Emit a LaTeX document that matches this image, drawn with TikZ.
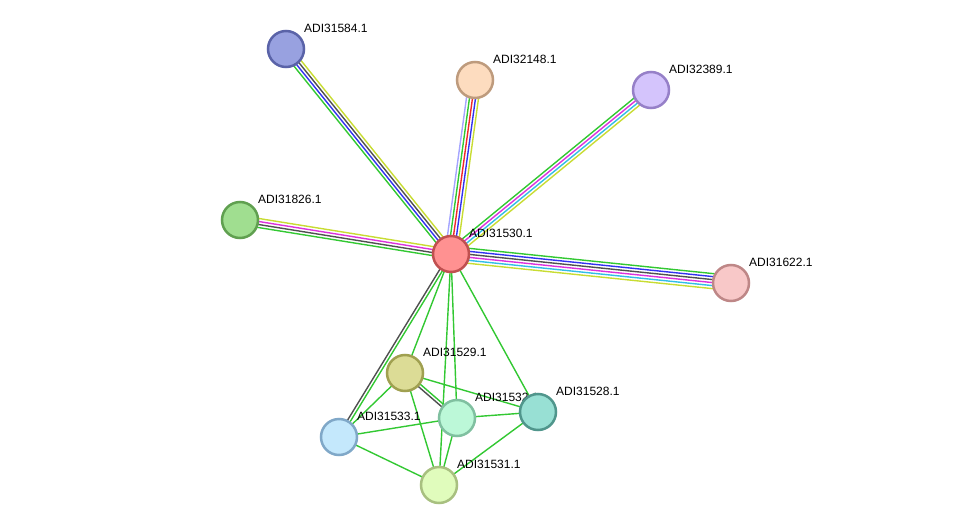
\documentclass[tikz,border=0pt]{standalone}
\usepackage{fontspec}
\setmainfont{Liberation Sans}
\usetikzlibrary{calc}
\definecolor{sgreen}{RGB}{50,200,50}
\definecolor{sblue}{RGB}{50,50,240}
\definecolor{sgray}{RGB}{80,80,80}
\definecolor{syellow}{RGB}{200,220,50}
\definecolor{smag}{RGB}{220,50,220}
\definecolor{scyan}{RGB}{50,190,230}
\definecolor{sred}{RGB}{240,40,40}
\definecolor{slav}{RGB}{165,165,255}
\definecolor{f84}{RGB}{152,161,224}\definecolor{b84}{RGB}{90,99,168}
\definecolor{f48}{RGB}{253,220,191}\definecolor{b48}{RGB}{190,155,125}
\definecolor{f89}{RGB}{212,196,252}\definecolor{b89}{RGB}{150,128,200}
\definecolor{f26}{RGB}{160,222,144}\definecolor{b26}{RGB}{96,160,80}
\definecolor{f22}{RGB}{248,200,200}\definecolor{b22}{RGB}{190,135,135}
\definecolor{f30}{RGB}{255,145,145}\definecolor{b30}{RGB}{192,80,80}
\definecolor{f29}{RGB}{220,220,150}\definecolor{b29}{RGB}{160,160,80}
\definecolor{f33}{RGB}{196,232,252}\definecolor{b33}{RGB}{128,168,200}
\definecolor{f32}{RGB}{188,248,216}\definecolor{b32}{RGB}{128,192,160}
\definecolor{f28}{RGB}{152,224,212}\definecolor{b28}{RGB}{80,150,140}
\definecolor{f31}{RGB}{224,252,188}\definecolor{b31}{RGB}{168,192,128}
\tikzset{
  prot/.style={circle, draw, line width=2.5pt, minimum size=36pt, inner sep=0pt},
  lbl/.style={anchor=west, font=\fontsize{12}{14}\selectfont, inner sep=0pt},
  ln/.style={line width=1.4pt}
}
\newcommand\multiedge[3]{%
  \foreach \c [count=\i] in {#3} {\xdef\nlines{\i}}%
  \foreach \c [count=\i] in {#3} {%
    \pgfmathsetmacro\off{((\nlines+1)/2-\i)*3}%
    \draw[ln,\c] ($(#1)!\off pt!90:(#2)$) -- ($(#2)!\off pt!-90:(#1)$);
  }}
\newcommand\prot[5]{% name, x, y, colour key, label
  \node[prot, fill=f#4, draw=b#4] (#1) at (#2,#3) {};
  \node[lbl] at ($(#1)+(18,-21)$) {#5};}
\begin{document}
\begin{tikzpicture}[x=1pt,y=-1pt]
\useasboundingbox (0,0) rectangle (975,530);
% coordinates
\coordinate (c30) at (451,254);
\coordinate (c84) at (286,49);
\coordinate (c48) at (475,80);
\coordinate (c89) at (651,90);
\coordinate (c26) at (240,220);
\coordinate (c22) at (731,283);
\coordinate (c29) at (405,373);
\coordinate (c32) at (457,418);
\coordinate (c28) at (538,412);
\coordinate (c33) at (339,437);
\coordinate (c31) at (439,485);
% edges
\multiedge{c30}{c84}{sgreen,sblue,sgray,syellow}
\multiedge{c30}{c48}{slav,sgreen,sred,sblue,syellow}
\multiedge{c30}{c89}{sgreen,smag,scyan,syellow}
\multiedge{c30}{c22}{sgreen,sblue,sgray,smag,scyan,syellow}
\multiedge{c30}{c26}{sgreen,sgray,smag,syellow}
\multiedge{c30}{c33}{sgreen,sgray}
\multiedge{c29}{c32}{sgreen,sgray}
\foreach \a/\b in {c30/c29,c30/c31,c30/c32,c30/c28,c29/c33,c29/c31,c29/c28,c33/c32,c33/c31,c32/c28,c32/c31,c28/c31}
  \draw[ln,sgreen] (\a) -- (\b);
% nodes
\prot{n84}{286}{49}{84}{ADI31584.1}
\prot{n48}{475}{80}{48}{ADI32148.1}
\prot{n89}{651}{90}{89}{ADI32389.1}
\prot{n26}{240}{220}{26}{ADI31826.1}
\prot{n22}{731}{283}{22}{ADI31622.1}
\prot{n30}{451}{254}{30}{ADI31530.1}
\prot{n29}{405}{373}{29}{ADI31529.1}
\prot{n33}{339}{437}{33}{ADI31533.1}
\prot{n32}{457}{418}{32}{ADI31532.1}
\prot{n28}{538}{412}{28}{ADI31528.1}
\prot{n31}{439}{485}{31}{ADI31531.1}
\end{tikzpicture}
\end{document}
